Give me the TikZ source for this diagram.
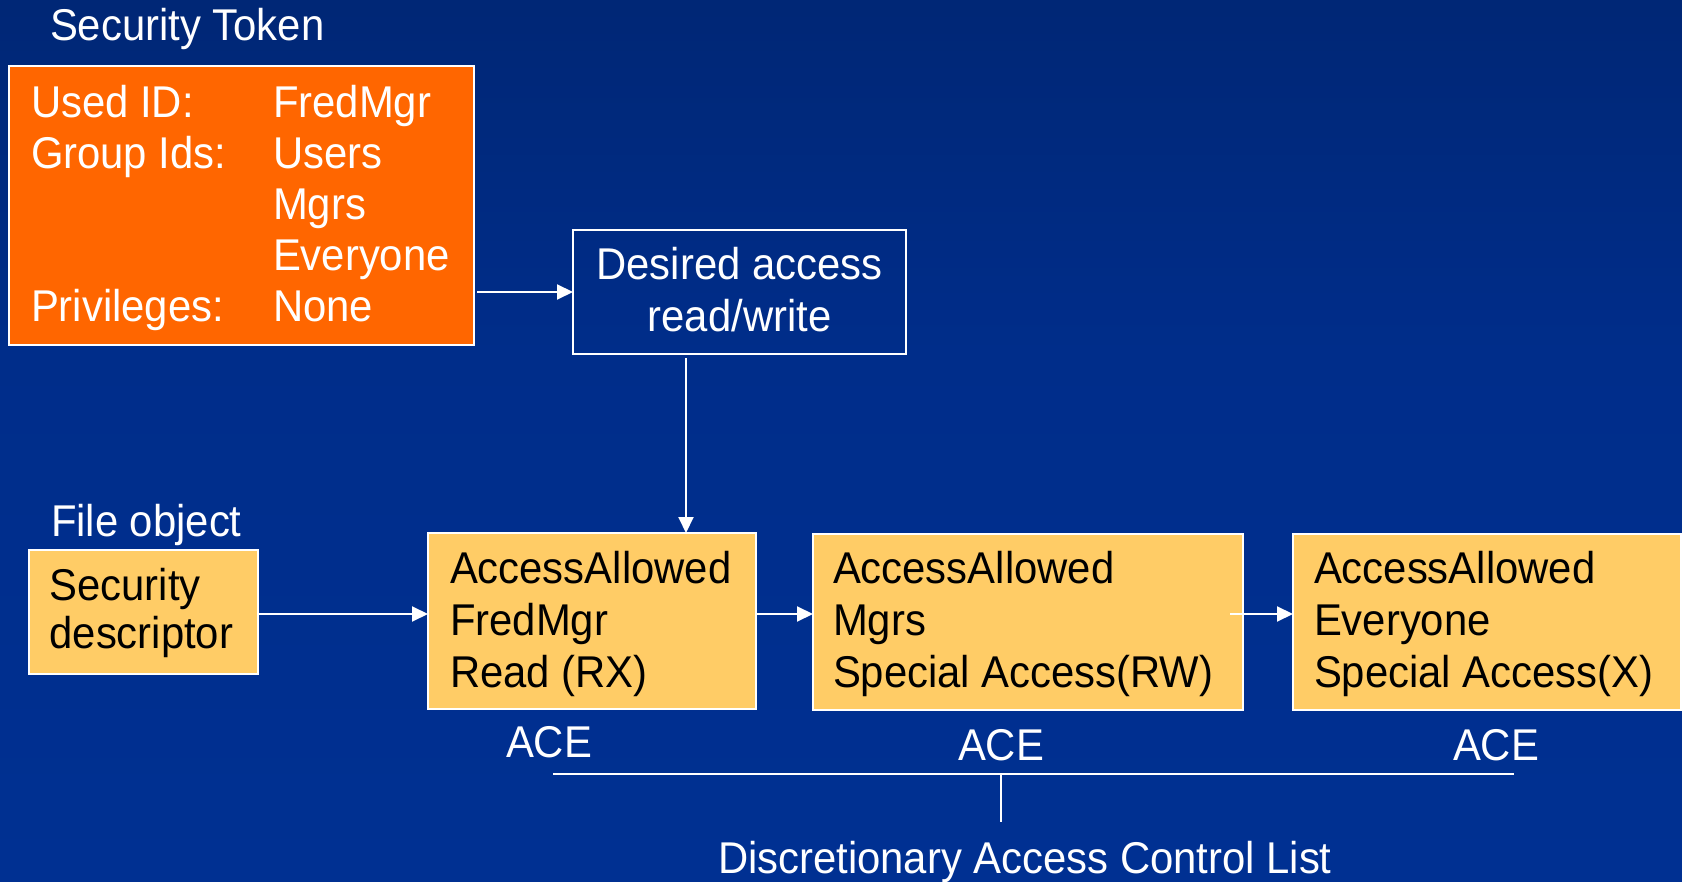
\documentclass[tikz,border=0pt]{standalone}
\usepackage{fontspec}
\setmainfont[FakeStretch=0.94]{Liberation Sans}
\usetikzlibrary{arrows.meta,calc}
\definecolor{bgtop}{RGB}{0,31,92}
\definecolor{bgmid}{RGB}{0,45,138}
\definecolor{bgbot}{RGB}{0,51,153}
\definecolor{tokorange}{RGB}{255,102,0}
\definecolor{aceyellow}{RGB}{255,204,102}
\pgfdeclareverticalshading{bgshade}{100bp}{color(0bp)=(bgbot); color(55bp)=(bgmid); color(100bp)=(bgtop)}
\tikzset{
  box/.style={draw=white,line width=2pt,rectangle,inner sep=0pt,outer sep=0pt},
  lbl/.style={anchor=base west,inner sep=0pt,outer sep=0pt,font=\fontsize{44.5}{51}\selectfont},
  clbl/.style={anchor=base,inner sep=0pt,outer sep=0pt,font=\fontsize{44.5}{51}\selectfont},
  wt/.style={text=white},
  bk/.style={text=black},
  arr/.style={draw=white,line width=2pt,-{Triangle[length=16pt,width=15pt]}},
  ln/.style={draw=white,line width=2pt}
}
\begin{document}
\begin{tikzpicture}[x=1pt,y=-1pt]
\useasboundingbox (0,0) rectangle (1682,882);
\shade[shading=bgshade] (0,0) rectangle (1682,882);

% boxes
\node[box,fill=tokorange,minimum width=465pt,minimum height=279pt] (tok) at (241.5,205.5) {};
\node[box,minimum width=333pt,minimum height=124pt] (des) at (739.5,292) {};
\node[box,fill=aceyellow,minimum width=229pt,minimum height=124pt] (sd) at (143.5,612) {};
\node[box,fill=aceyellow,minimum width=328pt,minimum height=176pt] (ace1) at (592,621) {};
\node[box,fill=aceyellow,minimum width=430pt,minimum height=176pt] (ace2) at (1028,622) {};
\node[box,fill=aceyellow,minimum width=388pt,minimum height=176pt] (ace3) at (1487,622) {};

% titles
\node[lbl,wt] (tTok) at (50,41) {Security Token};
\node[lbl,wt] (tFile) at (51,536) {File object};

% token contents
\node[lbl,wt] (t1a) at (31,118) {Used ID:};
\node[lbl,wt] (t1b) at (273,118) {FredMgr};
\node[lbl,wt] (t2a) at (31,169) {Group Ids:};
\node[lbl,wt] (t2b) at (273,169) {Users};
\node[lbl,wt] (t3b) at (273,220) {Mgrs};
\node[lbl,wt] (t4b) at (273,271) {Everyone};
\node[lbl,wt] (t5a) at (31,322) {Privileges:};
\node[lbl,wt] (t5b) at (273,322) {None};

% desired access
\node[clbl,wt] (d1) at (739.5,280) {Desired access};
\node[clbl,wt] (d2) at (739.5,332) {read/write};

% security descriptor
\node[lbl,bk] (s1) at (49.5,600) {Security};
\node[lbl,bk] (s2) at (49.5,648) {descriptor};

% ACEs
\node[lbl,bk] (a11) at (450,583) {AccessAllowed};
\node[lbl,bk] (a12) at (450,635) {FredMgr};
\node[lbl,bk] (a13) at (450,687) {Read (RX)};
\node[lbl,bk] (a21) at (833,583) {AccessAllowed};
\node[lbl,bk] (a22) at (833,635) {Mgrs};
\node[lbl,bk] (a23) at (833,687) {Special Access(RW)};
\node[lbl,bk] (a31) at (1314,583) {AccessAllowed};
\node[lbl,bk] (a32) at (1314,635) {Everyone};
\node[lbl,bk] (a33) at (1314,687) {Special Access(X)};

% ACE labels
\node[clbl,wt] (ace1l) at (549,757) {ACE};
\node[clbl,wt] (ace2l) at (1001,760) {ACE};
\node[clbl,wt] (ace3l) at (1496,760) {ACE};

% DACL label
\node[lbl,wt] (dacl) at (718,873) {Discretionary Access Control List};

% connectors
\draw[arr,shorten <=3pt] (tok.east |- des.west) -- (des.west);
\coordinate (dtop) at (686,358);
\draw[arr] (dtop) -- (dtop |- ace1.north);
\coordinate (ry) at (0,614);
\draw[arr] (sd.east |- ry) -- (ace1.west |- ry);
\draw[arr] (ace1.east |- ry) -- (ace2.west |- ry);
\draw[arr,shorten <=-13pt] (ace2.east |- ry) -- (ace3.west |- ry);

% bracket
\coordinate (bl) at (553,774);
\coordinate (br) at (1514,774);
\coordinate (bm) at (1001,774);
\coordinate (bb) at (1001,822);
\draw[ln] (bl) -- (br);
\draw[ln] (bm) -- (bb);
\end{tikzpicture}
\end{document}
